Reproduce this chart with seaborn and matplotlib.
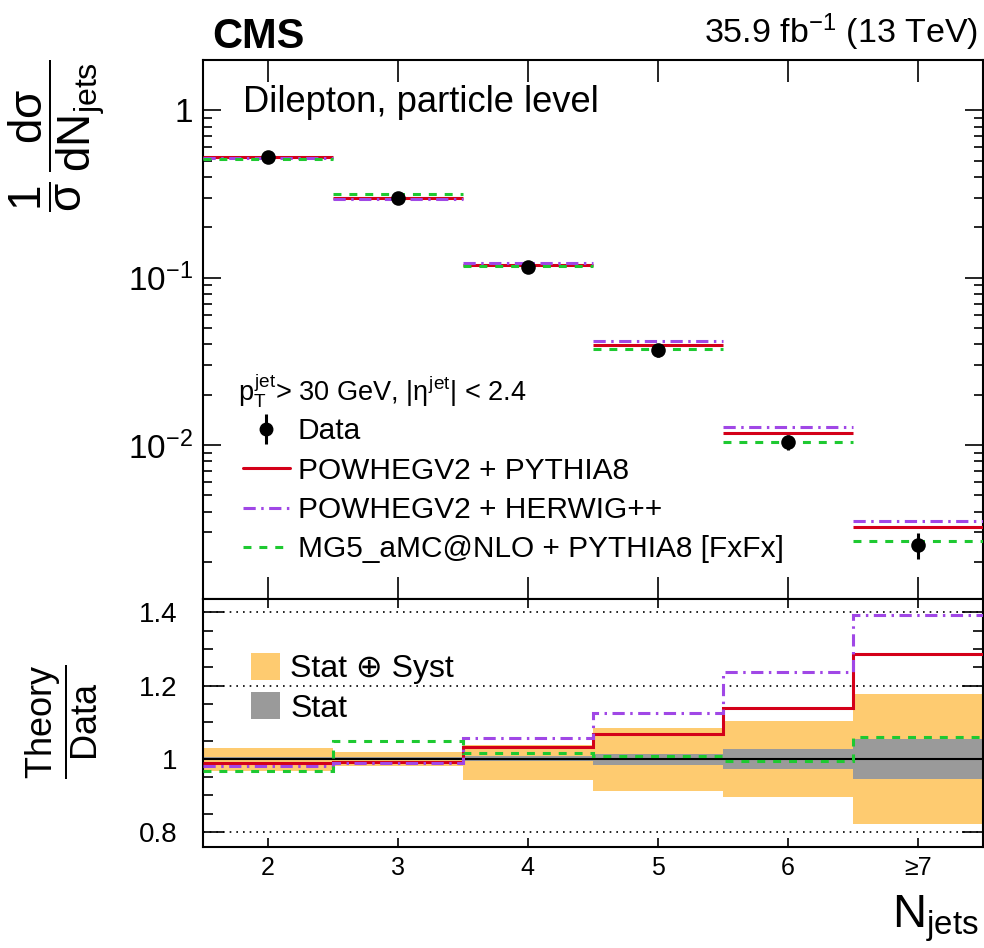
import numpy as np
import pandas as pd
import matplotlib
matplotlib.use("Agg")
import matplotlib.pyplot as plt
import seaborn as sns
from matplotlib.ticker import FixedLocator, MultipleLocator, FuncFormatter, NullFormatter, LogLocator
from matplotlib.lines import Line2D
from matplotlib.patches import Patch
from matplotlib.legend_handler import HandlerTuple

# ---- measured and predicted normalised cross sections ----
njets = [2, 3, 4, 5, 6, 7]
njets_labels = ["2", "3", "4", "5", "6", "\u22657"]
bin_edges = [1.5, 2.5, 3.5, 4.5, 5.5, 6.5, 7.5]

data = [0.530, 0.300, 0.116, 0.0370, 0.0104, 0.00253]
powheg_pythia = [0.5247, 0.2976, 0.1198, 0.03955, 0.01185, 0.003254]
powheg_herwig = [0.5199, 0.2964, 0.1227, 0.04166, 0.01288, 0.003527]
mg5_pythia = [0.5125, 0.3144, 0.1180, 0.03730, 0.01035, 0.002682]

# relative uncertainties of the data
tot_up = [0.030, 0.019, 0.039, 0.085, 0.103, 0.177]
tot_dn = [0.032, 0.019, 0.057, 0.087, 0.105, 0.178]
stat_up = [0.004, 0.004, 0.007, 0.014, 0.026, 0.054]
stat_dn = [0.004, 0.004, 0.007, 0.018, 0.028, 0.055]

models = [
    ("POWHEGV2 + PYTHIA8", powheg_pythia, "#d40019", "-"),
    ("POWHEGV2 + HERWIG++", powheg_herwig, "#a047e6", (0, (4.0, 1.8, 0.8, 1.8))),
    ("MG5_aMC@NLO + PYTHIA8 [FxFx]", mg5_pythia, "#1ec931", (0, (2.6, 2.6))),
]

sns.set_theme(style="ticks")
plt.rcParams.update({
    "font.family": ["Liberation Sans", "DejaVu Sans"],
    "mathtext.fontset": "custom",
    "mathtext.rm": "Liberation Sans",
    "mathtext.it": "Liberation Sans",
    "mathtext.bf": "Liberation Sans:bold",
    "mathtext.fallback": "stixsans",
    "axes.linewidth": 1.5,
    "axes.edgecolor": "black",
    "xtick.color": "black",
    "ytick.color": "black",
    "text.color": "black",
})

df = pd.DataFrame({"njets": njets, "xsec": data})
edges = np.array(bin_edges)
lo, hi = edges[:-1], edges[1:]

fig = plt.figure(figsize=(9.84, 9.48), dpi=100)
ax1 = fig.add_axes([0.206, 0.3681, 0.7927, 0.5686])
ax2 = fig.add_axes([0.206, 0.1069, 0.7927, 0.2613])

# ---------------- upper panel ----------------
handles = []
for label, vals, color, ls in models:
    ax1.hlines(vals, lo, hi, colors=color, linestyles=[ls], linewidth=2.2, zorder=3)
    handles.append(Line2D([], [], color=color, linestyle=ls, linewidth=2.2, label=label))

yerr = [np.array(data) * np.array(tot_dn), np.array(data) * np.array(tot_up)]
eb = ax1.errorbar(njets, data, yerr=yerr, fmt="none", ecolor="black", elinewidth=2.2, zorder=5)
sns.scatterplot(data=df, x="njets", y="xsec", ax=ax1, color="black", s=110,
                edgecolor="black", linewidth=0, zorder=6, legend=False)

ax1.set_yscale("log")
ax1.set_ylim(1.2e-3, 2.0)
ax1.set_xlim(1.5, 7.5)
ax1.set_xlabel("")
ax1.set_ylabel("")
ax1.xaxis.set_major_locator(FixedLocator(njets))
ax1.xaxis.set_major_formatter(NullFormatter())
ax1.yaxis.set_major_locator(LogLocator(base=10, numticks=10))
ax1.yaxis.set_minor_locator(LogLocator(base=10, subs=np.arange(2, 10), numticks=10))
ax1.yaxis.set_minor_formatter(NullFormatter())
ax1.yaxis.set_major_formatter(FuncFormatter(
    lambda v, p: "1" if abs(v - 1) < 1e-9 else r"$10^{%d}$" % round(np.log10(v))))
ax1.tick_params(axis="x", which="major", direction="in", top=True, bottom=True,
                length=16, width=1.2)
ax1.tick_params(axis="y", which="major", direction="in", left=True, right=True,
                length=13, width=1.2, labelsize=24, pad=7)
ax1.tick_params(axis="y", which="minor", direction="in", left=True, right=True,
                length=6.5, width=1.2)

ax1.text(0.052, 0.9035, "Dilepton, particle level", transform=ax1.transAxes,
         fontsize=26.2, ha="left", va="baseline")
ax1.text(0.045, 0.369, r"$p_{\mathrm{T}}^{\mathrm{jet}}$> 30 GeV, |$\eta^{\mathrm{jet}}$| < 2.4",
         transform=ax1.transAxes, fontsize=19.5, ha="left", va="baseline")

data_handle = Line2D([], [], color="black", marker="o", markersize=9, linestyle="none")
leg1 = ax1.legend([(eb, data_handle)] + handles,
                  ["Data"] + [m[0] for m in models],
                  handler_map={tuple: HandlerTuple(ndivide=1)},
                  loc="upper left", bbox_to_anchor=(0.0517, 0.337), frameon=False,
                  fontsize=21.5, handlelength=1.56, handletextpad=0.27,
                  labelspacing=0.38, borderpad=0, borderaxespad=0)

# ---------------- ratio panel ----------------
ax2.fill_between(edges, np.r_[1 - np.array(tot_dn), 1 - tot_dn[-1]],
                 np.r_[1 + np.array(tot_up), 1 + tot_up[-1]],
                 step="post", color="#fecb70", linewidth=0, zorder=1)
ax2.fill_between(edges, np.r_[1 - np.array(stat_dn), 1 - stat_dn[-1]],
                 np.r_[1 + np.array(stat_up), 1 + stat_up[-1]],
                 step="post", color="#9a9a9a", linewidth=0, zorder=2)
ax2.axhline(1.0, color="black", linewidth=1.5, zorder=3)
for yv in (0.8, 1.2, 1.4):
    ax2.axhline(yv, color="black", linewidth=1.2, linestyle=(0, (1, 3)), zorder=2.5)

for label, vals, color, ls in models:
    ratio = np.array(vals) / np.array(data)
    ax2.stairs(ratio, edges, baseline=None, color=color, linestyle=ls,
               linewidth=2.2, zorder=4)

ax2.set_xlim(1.5, 7.5)
ax2.set_ylim(0.76, 1.437)
ax2.xaxis.set_major_locator(FixedLocator(njets))
ax2.set_xticklabels(njets_labels)
ax2.yaxis.set_major_locator(MultipleLocator(0.2))
ax2.yaxis.set_minor_locator(MultipleLocator(0.05))
ax2.yaxis.set_major_formatter(FuncFormatter(lambda v, p: "%g" % round(v, 2)))
ax2.tick_params(axis="x", which="major", direction="in", top=True, bottom=True,
                length=6.5, width=1.2, labelsize=18, pad=7)
ax2.tick_params(axis="y", which="major", direction="in", left=True, right=True,
                length=15, width=1.2, labelsize=20, pad=18)
ax2.tick_params(axis="y", which="minor", direction="in", left=True, right=True,
                length=7.5, width=1.2)

band_handles = [Patch(facecolor="#fecb70", edgecolor="none"),
                Patch(facecolor="#9a9a9a", edgecolor="none")]
ax2.legend(band_handles, ["Stat \u2295 Syst", "Stat"], loc="upper left",
           bbox_to_anchor=(0.062, 0.782), frameon=False, fontsize=23,
           handlelength=0.92, handleheight=0.92, handletextpad=0.3,
           labelspacing=0.25, borderpad=0, borderaxespad=0)

# ---------------- labels ----------------
fig.text(57 / 984, 1 - 136 / 948, r"$\dfrac{1}{\sigma}\,\dfrac{d\sigma}{dN_{\mathrm{jets}}}$",
         rotation=90, fontsize=33, ha="center", va="center")
fig.text(62 / 984, 1 - 722 / 948, r"$\dfrac{\mathrm{Theory}}{\mathrm{Data}}$",
         rotation=90, fontsize=26, ha="center", va="center")
fig.text(0.995, 1 - 928 / 948, r"N$_{\mathrm{jets}}$", fontsize=34,
         ha="right", va="baseline")
fig.text(212 / 984, 1 - 48 / 948, "CMS", fontsize=30, fontweight="bold",
         ha="left", va="baseline")
fig.text(0.994, 1 - 43 / 948, r"35.9 fb$^{\mathregular{-1}}$ (13 TeV)", fontsize=24.5,
         ha="right", va="baseline")

fig.savefig("out.png", dpi=100)
